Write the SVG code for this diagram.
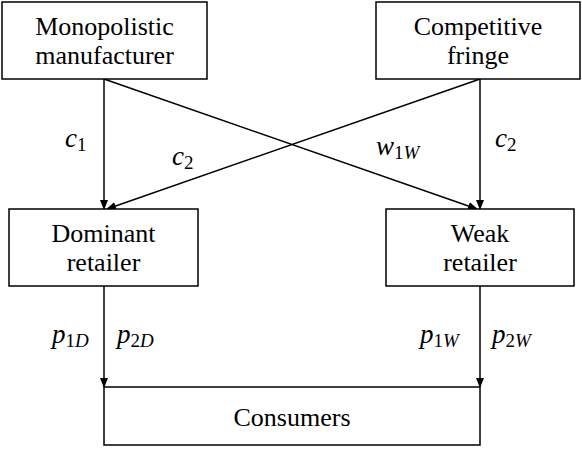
<svg xmlns="http://www.w3.org/2000/svg" width="582" height="450" viewBox="0 0 582 450">
<style>
.box{fill:#fff;stroke:#000;stroke-width:1.5}
.t{font-size:26px;fill:#000;text-anchor:middle}
.m{font-style:italic;font-size:27px;fill:#000}
.s{font-size:19px}
.d{font-style:normal}
.c{stroke:#000;stroke-width:1.5;fill:none;marker-end:url(#ah)}
</style>
<defs>
<marker id="ah" markerWidth="10" markerHeight="10" refX="9" refY="4" orient="auto" markerUnits="userSpaceOnUse">
<path d="M0,0 L10,4 L0,8 Z" fill="#000"/>
</marker>
</defs>
<rect width="582" height="450" fill="#fff"/>
<g id="connectors">
<line class="c" x1="104" y1="79" x2="104" y2="209"/>
<line class="c" x1="104" y1="79" x2="477" y2="209"/>
<line class="c" x1="480" y1="79" x2="480" y2="209"/>
<line class="c" x1="480" y1="79" x2="107" y2="209"/>
<line class="c" x1="104" y1="286" x2="104" y2="387"/>
<line class="c" x1="480" y1="286" x2="480" y2="387"/>
</g>
<g id="labels" font-family="Liberation Serif, Noto Serif, DejaVu Serif, serif">
<text class="m" x="65" y="147">c<tspan class="s d" dy="4">1</tspan></text>
<text class="m" x="172" y="165">c<tspan class="s d" dy="4">2</tspan></text>
<text class="m" x="376" y="155">w<tspan class="s" dy="4"><tspan class="d">1</tspan>W</tspan></text>
<text class="m" x="495" y="147">c<tspan class="s d" dy="4">2</tspan></text>
<text class="m" x="52" y="343">p<tspan class="s" dy="4"><tspan class="d">1</tspan>D</tspan></text>
<text class="m" x="117" y="343">p<tspan class="s" dy="4"><tspan class="d">2</tspan>D</tspan></text>
<text class="m" x="420" y="343">p<tspan class="s" dy="4"><tspan class="d">1</tspan>W</tspan></text>
<text class="m" x="492" y="343">p<tspan class="s" dy="4"><tspan class="d">2</tspan>W</tspan></text>
</g>
<g id="manufacturer" font-family="Liberation Serif, Noto Serif, DejaVu Serif, serif">
<rect class="box" x="2" y="2" width="205" height="77"/>
<text class="t" x="104.5" y="35">Monopolistic</text>
<text class="t" x="104.5" y="64">manufacturer</text>
</g>
<g id="fringe" font-family="Liberation Serif, Noto Serif, DejaVu Serif, serif">
<rect class="box" x="376" y="2" width="204" height="77"/>
<text class="t" x="478" y="35">Competitive</text>
<text class="t" x="478" y="64">fringe</text>
</g>
<g id="dominant" font-family="Liberation Serif, Noto Serif, DejaVu Serif, serif">
<rect class="box" x="9" y="209" width="189" height="77"/>
<text class="t" x="103.5" y="242">Dominant</text>
<text class="t" x="103.5" y="271">retailer</text>
</g>
<g id="weak" font-family="Liberation Serif, Noto Serif, DejaVu Serif, serif">
<rect class="box" x="386" y="209" width="188" height="77"/>
<text class="t" x="480" y="242">Weak</text>
<text class="t" x="480" y="271">retailer</text>
</g>
<g id="consumers" font-family="Liberation Serif, Noto Serif, DejaVu Serif, serif">
<rect class="box" x="104" y="387" width="376" height="58"/>
<text class="t" x="292" y="426">Consumers</text>
</g>
</svg>
